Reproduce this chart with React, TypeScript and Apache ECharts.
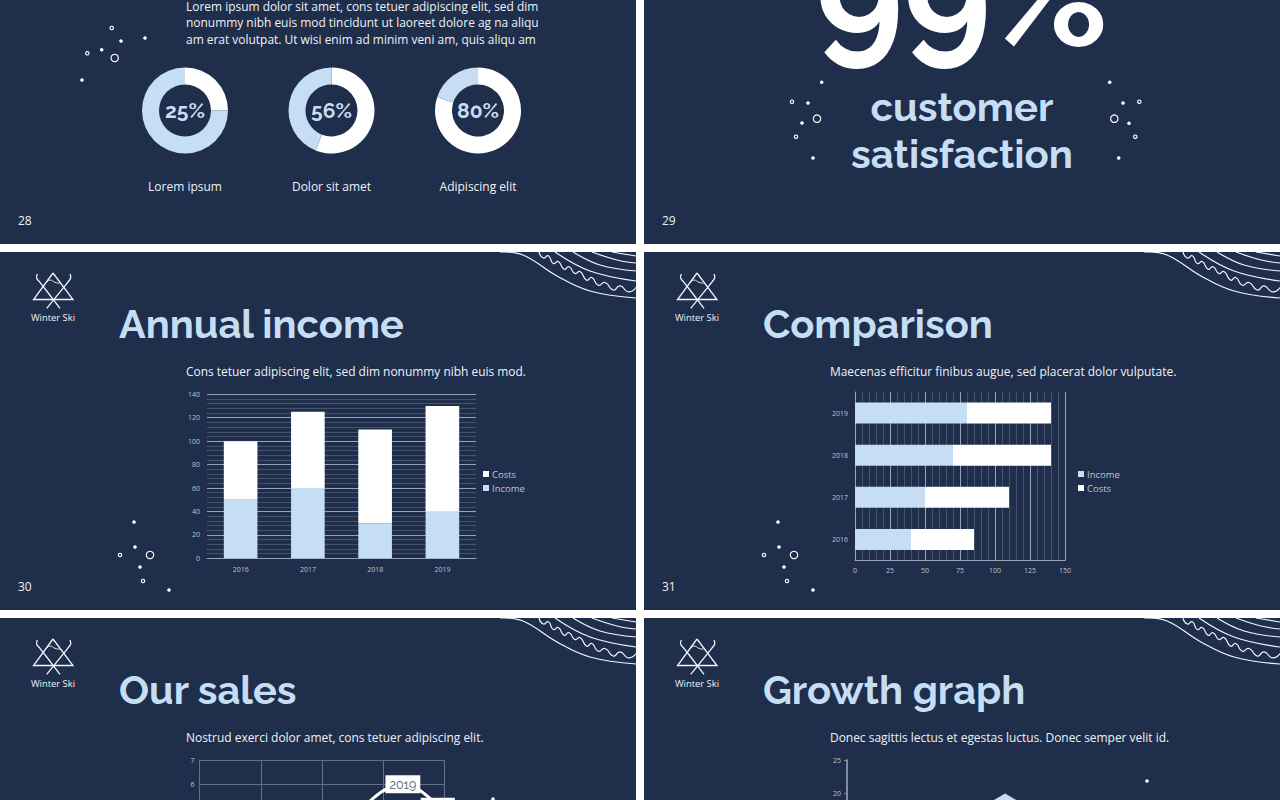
import React, { useEffect, useRef } from "react";
import * as echarts from "echarts";

const NAVY = "#1f2e4a";
const BLUE = "#c5def4";
const WHITE = "#ffffff";
const TEXT = "#eef2f7";
const AXIS_TEXT = "#bcc5d4";
const GRID_MAJOR = "#94a2ba";
const GRID_MINOR = "#55647f";
const HEAD = "Raleway, Lato, sans-serif";
const BODY = "'Open Sans', sans-serif";

const incomeYears = ["2016", "2017", "2018", "2019"];
const incomeValues = [50, 60, 30, 40];
const costValues = [50, 65, 80, 90];

const compareYears = ["2016", "2017", "2018", "2019"];
const compareIncome = [40, 50, 70, 80];
const compareCosts = [45, 60, 70, 60];

const salesPoints = [
  [2.6, 4.8],
  [3.32, 6],
  [3.89, 5.07],
];
const salesLabels = ["", "2019", "2017"];
const salesTicks = [6, 7];

const growthCategories = ["2016", "2017", "2018", "2019"];
const growthValues = [8, 13, 20, 17];
const growthTicks = [20, 25];

const donutValues = [25, 56, 80];
const donutCaptions = ["Lorem ipsum", "Dolor sit amet", "Adipiscing elit"];
const donutCentersX = [185, 331.5, 478];

const paragraph = [
  "Lorem ipsum dolor sit amet, cons tetuer adipiscing elit, sed dim",
  "nonummy nibh euis mod tincidunt ut laoreet dolore ag na aliqu",
  "am erat volutpat. Ut wisi enim ad minim veni am, quis aliqu am",
];

const slideTitles = [
  { t: "Annual income", x: 119, y: 324 },
  { t: "Comparison", x: 763, y: 324 },
  { t: "Our sales", x: 119, y: 690 },
  { t: "Growth graph", x: 763, y: 690 },
];
const slideSubs = [
  { t: "Cons tetuer adipiscing elit, sed dim nonummy nibh euis mod.", x: 186, y: 371 },
  { t: "Maecenas efficitur finibus augue, sed placerat dolor vulputate.", x: 830, y: 371 },
  { t: "Nostrud exerci dolor amet, cons tetuer adipiscing elit.", x: 186, y: 737 },
  { t: "Donec sagittis lectus et egestas luctus. Donec semper velit id.", x: 830, y: 737 },
];
const pageNumbers = [
  { t: "28", x: 18, y: 220 },
  { t: "29", x: 662, y: 220 },
  { t: "30", x: 18, y: 586 },
  { t: "31", x: 662, y: 586 },
];

const dotsFilled = [
  [145, 38], [121, 41], [101.7, 49.7], [82, 80],
  [821.7, 82.3], [808, 103], [802, 123], [813, 158],
  [1109.7, 82.3], [1123, 103], [1129, 123.3], [1118.7, 158],
  [134, 522], [135, 547], [140, 567], [169, 590],
  [778, 522], [779, 547], [784, 567], [813, 590],
  [493, 799], [1147, 781],
];
const dotsHollowSmall = [
  [111.7, 28], [87.3, 53.3],
  [792, 101.7], [796, 136.7],
  [1139.3, 101.7], [1135.3, 136.7],
  [120, 555], [143, 581],
  [764, 555], [787, 581],
];
const dotsHollowBig = [
  [114.7, 58], [817, 118.7], [1114.3, 118.7], [150, 555], [794, 555],
];

const waveLines = [
  [[500, 252], [523, 255], [557, 276], [590, 291], [636, 298]],
  [[555, 252], [590, 271], [636, 281]],
  [[573, 252], [600, 265], [636, 271]],
  [[592, 252], [617, 260], [636, 263]],
  [[612, 252], [636, 256]],
];
const waveZig = [
  [539, 252], [543.3, 258], [548.3, 255.8], [553.3, 263.5], [558.3, 261.5], [564, 269.2],
  [569, 266.8], [575, 273.5], [580, 271.5], [586.7, 280.2], [591.7, 277.5], [598.3, 285.2],
  [605, 282.5], [613.3, 290.2], [620, 285.8], [628.3, 291.8], [636, 287.5],
];
const logoTriangle = [[53, 273], [33.5, 299.5], [73, 299.5], [53, 273]];
const logoSkiLeft = [[37.3, 274], [36.7, 278.3], [40, 282.3], [60, 308.3]];
const logoSkiRight = [[70, 274], [70.7, 278], [67.7, 282.3], [46.7, 308.3]];
const logoSnow = [[46.7, 282.3], [50, 280], [55, 282.3], [59.3, 283.3]];

function text(t: string, x: number, y: number, size: number, fill: string, family = BODY, weight: any = 400, align = "left") {
  return {
    type: "text",
    z: 20,
    style: { text: t, x, y, fontSize: size, fontFamily: family, fontWeight: weight, fill, textAlign: align, textVerticalAlign: "middle" },
  };
}

function line(points: number[][], smooth = 0, width = 1.2) {
  return {
    type: "polyline",
    shape: { points, smooth },
    style: { stroke: "#f2f6fb", lineWidth: width, fill: "none" },
  };
}

function decoration(dx: number, dy: number) {
  return {
    type: "group",
    x: dx,
    y: dy,
    z: 10,
    children: [
      line(logoTriangle, 0, 1.3),
      line(logoSkiLeft, 0.4, 1.3),
      line(logoSkiRight, 0.4, 1.3),
      line(logoSnow, 0.5, 0.9),
      ...waveLines.map((p) => line(p, 0.4, 1.2)),
      line(waveZig, 0.6, 1.2),
    ],
  };
}

export default function App() {
  const ref = useRef<HTMLDivElement>(null);
  useEffect(() => {
    const chart = echarts.init(ref.current!, undefined, { renderer: "svg" });

    const axisLabel = { color: AXIS_TEXT, fontSize: 7, fontFamily: BODY };
    const majorLine = { show: true, lineStyle: { color: GRID_MAJOR, width: 1 } };
    const minorLine = { show: true, lineStyle: { color: GRID_MINOR, width: 0.7 } };

    const graphic: any[] = [
      { type: "rect", z: 5, shape: { x: 636, y: 0, width: 8, height: 800 }, style: { fill: "#fff" } },
      { type: "rect", z: 5, shape: { x: 0, y: 244, width: 1280, height: 8 }, style: { fill: "#fff" } },
      { type: "rect", z: 5, shape: { x: 0, y: 610, width: 1280, height: 8 }, style: { fill: "#fff" } },
      decoration(0, 0),
      decoration(644, 0),
      decoration(0, 366),
      decoration(644, 366),
      ...paragraph.map((t, i) => text(t, 186, 6 + i * 16.6, 11.95, TEXT)),
      ...donutCaptions.map((t, i) => text(t, donutCentersX[i], 186, 12, TEXT, BODY, 400, "center")),
      ...pageNumbers.map((p) => text(p.t, p.x, p.y, 12, TEXT)),
      ...slideTitles.map((s) => text(s.t, s.x, s.y, 39.8, BLUE, HEAD, 700)),
      ...slideSubs.map((s) => text(s.t, s.x, s.y, 11.95, TEXT)),
      ...[[53, 317], [697, 317], [53, 683], [697, 683]].map(([x, y]) => text("Winter Ski", x, y, 9.4, TEXT, BODY, 400, "center")),
      text("99%", 962, -7, 149, WHITE, HEAD, 700, "center"),
      text("customer", 962, 106.5, 40, BLUE, HEAD, 700, "center"),
      text("satisfaction", 962, 153.5, 40, BLUE, HEAD, 700, "center"),
      ...dotsFilled.map(([cx, cy]) => ({ type: "circle", z: 10, shape: { cx, cy, r: 1.8 }, style: { fill: WHITE } })),
      ...dotsHollowSmall.map(([cx, cy]) => ({ type: "circle", z: 10, shape: { cx, cy, r: 1.7 }, style: { fill: "none", stroke: WHITE, lineWidth: 1.1 } })),
      ...dotsHollowBig.map(([cx, cy]) => ({ type: "circle", z: 10, shape: { cx, cy, r: 3.7 }, style: { fill: "none", stroke: WHITE, lineWidth: 1.2 } })),
    ];

    const pies = donutValues.map((v, i) => ({
      type: "pie",
      center: [donutCentersX[i], 110.5],
      radius: [26, 43],
      startAngle: 90,
      silent: true,
      labelLine: { show: false },
      label: { show: false },
      data: [
        {
          value: v,
          itemStyle: { color: WHITE },
          label: { show: true, position: "center", formatter: `${v}%`, color: BLUE, fontSize: 21, fontFamily: HEAD, fontWeight: 700 },
        },
        { value: 100 - v, itemStyle: { color: BLUE } },
      ],
    }));

    const legendBase = {
      orient: "vertical", top: 464, itemWidth: 6, itemHeight: 6, itemGap: 4,
      icon: "rect", selectedMode: false,
      textStyle: { color: AXIS_TEXT, fontSize: 9.5, fontFamily: BODY, padding: [0, 0, 0, -2] },
    };

    const option: any = {
      animation: false,
      backgroundColor: NAVY,
      graphic,
      legend: [
        { ...legendBase, left: 478, data: ["Costs", "Income"] },
        { ...legendBase, left: 1073, data: ["Income", "Costs"] },
      ],
      grid: [
        { left: 207, top: 394.3, width: 269, height: 164, outerBoundsMode: "none" },
        { left: 855, top: 392, width: 210, height: 168.5, outerBoundsMode: "none" },
        { left: 199.5, top: 760, width: 245, height: 170, outerBoundsMode: "none" },
        { left: 847, top: 760, width: 253, height: 167.5, outerBoundsMode: "none" },
      ],
      xAxis: [
        {
          gridIndex: 0, type: "category", data: incomeYears,
          axisTick: { show: false }, axisLine: { lineStyle: { color: GRID_MAJOR } },
          axisLabel: { ...axisLabel, margin: 8 },
        },
        {
          gridIndex: 1, type: "value", min: 0, max: 150, interval: 25,
          axisTick: { show: false }, axisLine: { show: true, lineStyle: { color: GRID_MAJOR } },
          axisLabel: { ...axisLabel, margin: 6 },
          splitLine: majorLine, minorTick: { show: false, splitNumber: 5 }, minorSplitLine: minorLine,
        },
        {
          gridIndex: 2, type: "value", min: 0, max: 4, interval: 1,
          axisLine: { show: false }, axisTick: { show: false }, axisLabel: { show: false },
          splitLine: { show: true, lineStyle: { color: "#5f6f8c", width: 1 } },
        },
        { gridIndex: 3, type: "category", data: growthCategories, show: false },
      ],
      yAxis: [
        {
          gridIndex: 0, type: "value", min: 0, max: 140, interval: 20,
          axisLine: { show: false }, axisTick: { show: false },
          axisLabel: { ...axisLabel, margin: 7 },
          splitLine: majorLine, minorTick: { show: false, splitNumber: 5 }, minorSplitLine: minorLine,
        },
        {
          gridIndex: 1, type: "category", data: compareYears,
          axisTick: { show: false }, axisLine: { lineStyle: { color: GRID_MAJOR } },
          axisLabel: { ...axisLabel, margin: 7 },
        },
        {
          gridIndex: 2, type: "value", min: 0, max: 7, interval: 1,
          axisLine: { show: true, lineStyle: { color: "#5f6f8c" } }, axisTick: { show: false },
          axisLabel: { ...axisLabel, margin: 5, customValues: salesTicks },
          splitLine: { show: true, lineStyle: { color: "#5f6f8c", width: 1 } },
        },
        {
          gridIndex: 3, type: "value", min: 0, max: 25, interval: 5,
          axisLine: { show: true, lineStyle: { color: "#7d8ba6", width: 2 } },
          axisTick: { show: true, length: 3, lineStyle: { color: "#7d8ba6" } },
          axisLabel: { ...axisLabel, margin: 6, customValues: growthTicks },
          splitLine: { show: false },
        },
      ],
      series: [
        {
          name: "Income", type: "bar", stack: "a", xAxisIndex: 0, yAxisIndex: 0,
          barWidth: "50%", data: incomeValues, itemStyle: { color: BLUE },
        },
        {
          name: "Costs", type: "bar", stack: "a", xAxisIndex: 0, yAxisIndex: 0,
          barWidth: "50%", data: costValues, itemStyle: { color: WHITE },
        },
        {
          name: "Income", type: "bar", stack: "b", xAxisIndex: 1, yAxisIndex: 1,
          barWidth: "50%", data: compareIncome, itemStyle: { color: BLUE },
        },
        {
          name: "Costs", type: "bar", stack: "b", xAxisIndex: 1, yAxisIndex: 1,
          barWidth: "50%", data: compareCosts, itemStyle: { color: WHITE },
        },
        {
          name: "Sales", type: "line", xAxisIndex: 2, yAxisIndex: 2, smooth: 0.5,
          data: salesPoints.map((p, i) => ({
            value: p,
            label: salesLabels[i] ? { show: true, formatter: salesLabels[i] } : { show: false },
          })),
          symbol: "circle", symbolSize: 1, clip: false,
          lineStyle: { color: WHITE, width: 3 },
          itemStyle: { color: WHITE },
          label: {
            show: true, position: "inside", backgroundColor: WHITE, color: "#555f73",
            fontSize: 12.5, fontFamily: HEAD, padding: [3, 4, 2, 4],
          },
        },
        {
          name: "Growth", type: "pictorialBar", xAxisIndex: 3, yAxisIndex: 3,
          data: growthValues,
          symbol: "path://M24 0L48 14L48 60L0 60L0 14Z",
          symbolSize: [48, 60],
          symbolPosition: "end",
          itemStyle: { color: BLUE },
        },
        ...pies,
      ],
    };

    chart.setOption(option);
    return () => chart.dispose();
  }, []);

  return <div ref={ref} style={{ position: "fixed", left: 0, top: 0, width: 1280, height: 800 }} />;
}
